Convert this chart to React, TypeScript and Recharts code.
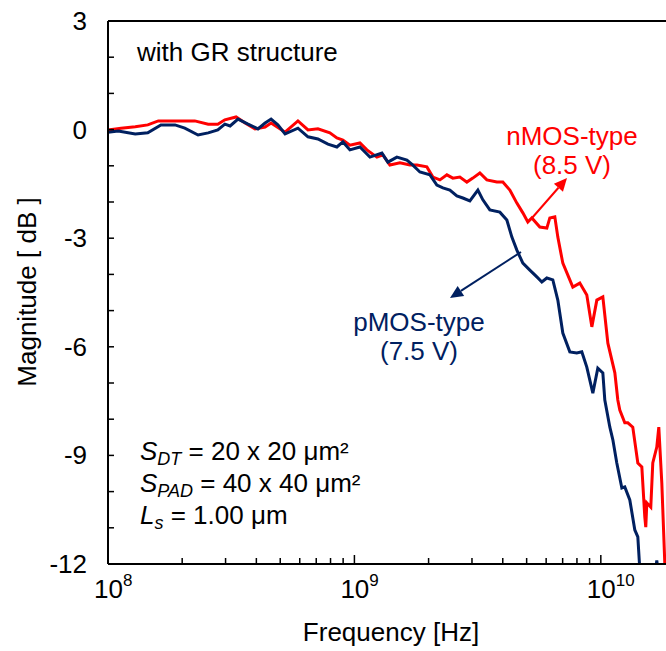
import { LineChart, Line, XAxis, YAxis, ReferenceLine } from "recharts";

// frequency [Hz] and magnitude [dB]
const nmosFreq = [
  1.0e8, 1.13e8, 1.29e8, 1.45e8, 1.6e8, 1.87e8, 2.25e8, 2.55e8, 2.79e8, 2.98e8,
  3.31e8, 3.6e8, 3.95e8, 4.34e8, 4.59e8, 5.23e8, 5.9e8, 6.48e8, 7.11e8, 7.95e8,
  8.49e8, 8.98e8, 9.59e8, 1.053e9, 1.124e9, 1.234e9, 1.305e9, 1.393e9, 1.53e9, 1.68e9,
  1.793e9, 1.968e9, 2.082e9, 2.223e9, 2.373e9, 2.509e9, 2.679e9, 2.86e9, 3.024e9, 3.229e9,
  3.447e9, 3.785e9, 4.003e9, 4.274e9, 4.563e9, 4.826e9, 5.056e9, 5.249e9, 5.656e9, 6.038e9,
  6.209e9, 6.506e9, 6.691e9, 7.011e9, 7.485e9, 7.698e9, 8.217e9, 8.772e9, 9.195e9, 9.634e9,
  1.019e10, 1.068e10, 1.14e10, 1.172e10, 1.194e10, 1.251e10, 1.287e10, 1.348e10, 1.413e10, 1.467e10,
  1.508e10, 1.522e10, 1.537e10, 1.595e10, 1.625e10, 1.687e10, 1.719e10, 1.768e10, 1.818e10, 1.87e10,
];
const nmosDb = [
  -0.01, 0.04, 0.08, 0.13, 0.24, 0.24, 0.24, 0.15, 0.15, 0.27,
  0.35, 0.18, 0.02, 0.07, 0.18, -0.07, 0.24, -0.01, 0.02, -0.09,
  -0.23, -0.29, -0.43, -0.37, -0.56, -0.76, -0.7, -0.98, -0.92, -0.98,
  -0.98, -1.03, -1.31, -1.39, -1.25, -1.34, -1.31, -1.45, -1.34, -1.2,
  -1.39, -1.45, -1.45, -1.67, -2.03, -2.3, -2.55, -2.44, -2.69, -2.72,
  -2.44, -2.41, -2.97, -3.69, -4.15, -4.35, -4.24, -4.57, -5.45, -4.71,
  -4.62, -5.9, -6.72, -7.47, -7.75, -8.1, -8.1, -8.22, -9.21, -9.32,
  -10.7, -10.98, -10.31, -10.43, -9.21, -8.77, -8.22, -9.76, -11.97, -13.0,
];

const pmosFreq = [
  1.0e8, 1.1e8, 1.29e8, 1.45e8, 1.64e8, 1.87e8, 2.05e8, 2.32e8, 2.55e8, 2.79e8,
  2.98e8, 3.13e8, 3.37e8, 3.7e8, 4.06e8, 4.34e8, 4.59e8, 4.89e8, 5.23e8, 5.9e8,
  6.48e8, 7.11e8, 7.81e8, 8.49e8, 8.98e8, 9.59e8, 1.053e9, 1.156e9, 1.293e9, 1.367e9,
  1.487e9, 1.633e9, 1.727e9, 1.844e9, 2.025e9, 2.161e9, 2.286e9, 2.44e9, 2.605e9, 2.755e9,
  2.941e9, 3.17e9, 3.321e9, 3.545e9, 3.893e9, 4.156e9, 4.355e9, 4.563e9, 4.826e9, 5.152e9,
  5.5e9, 5.763e9, 6.038e9, 6.386e9, 6.691e9, 7.011e9, 7.485e9, 7.991e9, 8.372e9, 8.772e9,
  9.281e9, 9.723e9, 1.019e10, 1.038e10, 1.088e10, 1.119e10, 1.161e10, 1.217e10, 1.251e10, 1.311e10,
  1.374e10, 1.413e10, 1.453e10, 1.58e10, 1.656e10, 1.687e10, 1.719e10, 1.818e10,
];
const pmosDb = [
  -0.07, -0.04, -0.12, -0.09, 0.13, 0.13, 0.04, -0.15, -0.09, -0.01,
  0.15, 0.1, 0.29, 0.15, 0.02, 0.18, 0.29, 0.13, -0.12, 0.04,
  -0.2, -0.26, -0.4, -0.48, -0.34, -0.56, -0.48, -0.76, -0.65, -0.9,
  -0.76, -0.84, -0.98, -1.17, -1.25, -1.53, -1.61, -1.67, -1.83, -1.89,
  -1.97, -1.67, -1.94, -2.22, -2.28, -2.5, -2.97, -3.33, -3.69, -3.88,
  -4.07, -4.21, -4.1, -4.15, -4.71, -5.62, -6.14, -6.17, -6.14, -6.56,
  -7.28, -6.59, -6.72, -7.47, -8.22, -8.57, -9.21, -9.9, -9.87, -10.23,
  -11.06, -11.25, -12.6, -13.5, -12.4, -11.9, -12.4, -13.5,
];

const xTicks = [
  1e8, 2e8, 3e8, 4e8, 5e8, 6e8, 7e8, 8e8, 9e8,
  1e9, 2e9, 3e9, 4e9, 5e9, 6e9, 7e9, 8e9, 9e9,
  1e10, 2e10,
];
const yTicks = [-12, -11, -10, -9, -8, -7, -6, -5, -4, -3, -2, -1, 0, 1, 2, 3];

const nmosData = nmosFreq.map((f, i) => ({ f, db: nmosDb[i] }));
const pmosData = pmosFreq.map((f, i) => ({ f, db: pmosDb[i] }));

const FONT = "'Liberation Sans', Arial, sans-serif";
const FS = 26;
const SUB = 18;
const RED = "#ff0000";
const NAVY = "#002060";

const XTick = (props: any) => {
  const { x, y, payload } = props;
  const lg = Math.log10(payload.value);
  const exp = Math.round(lg);
  const major = Math.abs(lg - exp) < 1e-6;
  return (
    <g>
      <line x1={x} x2={x} y1={y} y2={y - (major ? 9 : 6)} stroke="#000" strokeWidth={1.5} />
      {major && (
        <text x={x - 14} y={y + 34} fontSize={FS} fontFamily={FONT} fill="#000">
          10
          <tspan dy={-12} fontSize={17}>
            {exp}
          </tspan>
        </text>
      )}
    </g>
  );
};

const YTick = (props: any) => {
  const { x, y, payload } = props;
  const v = payload.value;
  return (
    <g>
      <line x1={x} x2={x + 6} y1={y} y2={y} stroke="#000" strokeWidth={1.5} />
      {v % 3 === 0 && (
        <text x={x - 21} y={y + 9} textAnchor="end" fontSize={FS} fontFamily={FONT} fill="#000">
          {v}
        </text>
      )}
    </g>
  );
};

const Arrow = ({ x1, y1, x2, y2, color }: any) => {
  const a = Math.atan2(y2 - y1, x2 - x1);
  const L = 13;
  const W = 6;
  const bx = x2 - L * Math.cos(a);
  const by = y2 - L * Math.sin(a);
  const px = -Math.sin(a) * W;
  const py = Math.cos(a) * W;
  return (
    <g>
      <line x1={x1} y1={y1} x2={bx} y2={by} stroke={color} strokeWidth={2} />
      <polygon points={`${x2},${y2} ${bx + px},${by + py} ${bx - px},${by - py}`} fill={color} />
    </g>
  );
};

export default function App() {
  return (
    <div style={{ position: "fixed", left: 0, top: 0, width: 666, height: 651, overflow: "hidden", background: "#fff" }}>
      <LineChart width={720} height={651} margin={{ top: 21, right: 45, bottom: 57, left: 48 }}>
        <XAxis
          dataKey="f"
          type="number"
          scale="log"
          domain={[1e8, 2e10]}
          ticks={xTicks}
          interval={0}
          allowDataOverflow
          tickSize={0}
          tickMargin={0}
          tickLine={false}
          tick={<XTick />}
          axisLine={{ stroke: "#000", strokeWidth: 2 }}
          height={30}
        />
        <YAxis
          dataKey="db"
          type="number"
          domain={[-12, 3]}
          ticks={yTicks}
          interval={0}
          allowDataOverflow
          tickSize={0}
          tickMargin={0}
          tickLine={false}
          tick={<YTick />}
          axisLine={{ stroke: "#000", strokeWidth: 2 }}
          width={60}
        />
        <ReferenceLine y={3} stroke="#000" strokeWidth={2} />
        <ReferenceLine x={2e10} stroke="#000" strokeWidth={2} />
        <Line data={nmosData} dataKey="db" stroke={RED} strokeWidth={3} dot={false} type="linear" isAnimationActive={false} />
        <Line data={pmosData} dataKey="db" stroke={NAVY} strokeWidth={3} dot={false} type="linear" isAnimationActive={false} />
      </LineChart>
      <svg width={666} height={651} style={{ position: "absolute", left: 0, top: 0, pointerEvents: "none" }} fontFamily={FONT} fontSize={FS}>
        <text x={137} y={61} fill="#000">with GR structure</text>
        <text x={572} y={145} fill={RED} textAnchor="middle">nMOS-type</text>
        <text x={572} y={174} fill={RED} textAnchor="middle">(8.5 V)</text>
        <Arrow x1={532} y1={218} x2={567} y2={178} color={RED} />
        <text x={419} y={331} fill={NAVY} textAnchor="middle">pMOS-type</text>
        <text x={419} y={360} fill={NAVY} textAnchor="middle">(7.5 V)</text>
        <Arrow x1={521} y1={252} x2={450} y2={298} color={NAVY} />
        <text x={140} y={460} fill="#000">
          <tspan fontStyle="italic">S</tspan>
          <tspan fontStyle="italic" fontSize={SUB} dy={5}>DT</tspan>
          <tspan dy={-5}> = 20 x 20 μm²</tspan>
        </text>
        <text x={140} y={492} fill="#000">
          <tspan fontStyle="italic">S</tspan>
          <tspan fontStyle="italic" fontSize={SUB} dy={5}>PAD</tspan>
          <tspan dy={-5}> = 40 x 40 μm²</tspan>
        </text>
        <text x={140} y={524} fill="#000">
          <tspan fontStyle="italic">L</tspan>
          <tspan fontStyle="italic" fontSize={SUB} dy={5}>s</tspan>
          <tspan dy={-5}> = 1.00 μm</tspan>
        </text>
        <text x={391} y={641} fill="#000" textAnchor="middle">Frequency [Hz]</text>
        <text x={0} y={0} fill="#000" textAnchor="middle" transform="translate(36 292) rotate(-90)">
          Magnitude [ dB ]
        </text>
      </svg>
    </div>
  );
}
